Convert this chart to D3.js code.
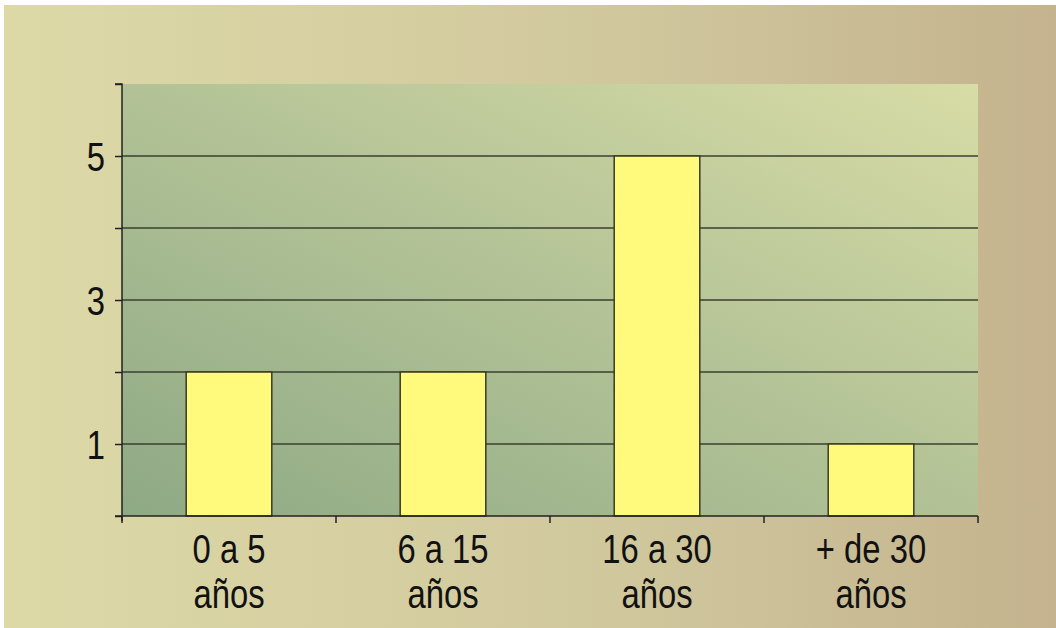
<!DOCTYPE html>
<html>
<head>
<meta charset="utf-8">
<script src="https://cdn.jsdelivr.net/npm/d3@7"></script>
<style>
  body { margin: 0; background: #fff; }
  svg { display: block; }
  text { font-family: "Liberation Sans Narrow", "Arial Narrow", "Liberation Sans", sans-serif; fill: #111; }
</style>
</head>
<body>
<svg width="1056" height="628"></svg>
<script>
// data
var categories = [["0 a 5", "años"], ["6 a 15", "años"], ["16 a 30", "años"], ["+ de 30", "años"]];
var values = [2, 2, 5, 1];
var yTicks = [0, 1, 2, 3, 4, 5, 6];
var yLabels = [1, 3, 5];

var narrow = 0.82; // squeeze to imitate a condensed face

var svg = d3.select("svg");
var defs = svg.append("defs");

var bg = defs.append("linearGradient").attr("id", "bg")
  .attr("x1", 0).attr("y1", 0).attr("x2", 1).attr("y2", 0);
bg.append("stop").attr("offset", "0%").attr("stop-color", "#ddd9a7");
bg.append("stop").attr("offset", "55%").attr("stop-color", "#d1c99e");
bg.append("stop").attr("offset", "100%").attr("stop-color", "#c4b38e");

var plotBg = defs.append("linearGradient").attr("id", "plotbg")
  .attr("x1", 0).attr("y1", 1).attr("x2", 1).attr("y2", 0);
plotBg.append("stop").attr("offset", "0%").attr("stop-color", "#8ea985");
plotBg.append("stop").attr("offset", "50%").attr("stop-color", "#b2c296");
plotBg.append("stop").attr("offset", "100%").attr("stop-color", "#d8dca6");

// page background with thin white edge at top/left
svg.append("rect").attr("x", 4).attr("y", 5).attr("width", 1052).attr("height", 623)
  .attr("fill", "url(#bg)");

var margin = {left: 122, top: 84, right: 978, bottom: 516};

var x = d3.scaleBand()
  .domain(d3.range(categories.length))
  .range([margin.left, margin.right])
  .paddingInner(0.6)
  .paddingOuter(0.3);

var y = d3.scaleLinear().domain([0, 6]).range([margin.bottom, margin.top]);

var g = svg.append("g");

g.append("rect")
  .attr("x", margin.left).attr("y", margin.top)
  .attr("width", margin.right - margin.left)
  .attr("height", margin.bottom - margin.top)
  .attr("fill", "url(#plotbg)");

// gridlines
g.selectAll("line.grid")
  .data(yTicks.filter(function(d) { return d > 0 && d < 6; }))
  .enter().append("line")
  .attr("class", "grid")
  .attr("x1", margin.left).attr("x2", margin.right)
  .attr("y1", function(d) { return y(d); })
  .attr("y2", function(d) { return y(d); })
  .attr("stroke", "#3a3f30").attr("stroke-width", 1.5);

// bars
g.selectAll("rect.bar")
  .data(values)
  .enter().append("rect")
  .attr("class", "bar")
  .attr("x", function(d, i) { return x(i); })
  .attr("y", function(d) { return y(d); })
  .attr("width", x.bandwidth())
  .attr("height", function(d) { return y(0) - y(d); })
  .attr("fill", "#fff97c")
  .attr("stroke", "#3a3a22").attr("stroke-width", 1.5);

// y axis
var yAxis = d3.axisLeft(y).tickValues(yTicks).tickSize(7)
  .tickFormat(function(d) { return yLabels.indexOf(d) >= 0 ? d : ""; });
var ya = svg.append("g").attr("transform", "translate(" + margin.left + ",0)").call(yAxis);
ya.select(".domain").attr("stroke", "#222").attr("stroke-width", 1.5)
  .attr("d", "M-7," + margin.top + "H0V" + (margin.bottom + 5));
ya.selectAll(".tick line").attr("stroke", "#222").attr("stroke-width", 1.5);
ya.selectAll(".tick text").attr("font-size", 40).attr("x", 0).attr("dy", "0.35em")
  .attr("transform", "translate(-17,0) scale(" + narrow + ",1)")
  .attr("fill", "#111");

// x axis: ticks at category boundaries
var step = (margin.right - margin.left) / categories.length;
var bounds = d3.range(categories.length + 1).map(function(i) { return margin.left + i * step; });
svg.append("line")
  .attr("x1", margin.left - 7).attr("x2", margin.right)
  .attr("y1", margin.bottom).attr("y2", margin.bottom)
  .attr("stroke", "#222").attr("stroke-width", 1.5);
svg.selectAll("line.xtick").data(bounds).enter().append("line")
  .attr("class", "xtick")
  .attr("x1", function(d) { return d; }).attr("x2", function(d) { return d; })
  .attr("y1", margin.bottom).attr("y2", margin.bottom + 7)
  .attr("stroke", "#222").attr("stroke-width", 1.5);

var labels = svg.selectAll("text.xlab").data(categories).enter().append("text")
  .attr("class", "xlab")
  .attr("text-anchor", "middle")
  .attr("font-size", 40)
  .attr("transform", function(d, i) {
    return "translate(" + (x(i) + x.bandwidth() / 2) + ",563) scale(" + narrow + ",1)";
  });
labels.selectAll("tspan").data(function(d) { return d; }).enter().append("tspan")
  .attr("x", 0)
  .attr("dy", function(d, i) { return i === 0 ? 0 : 45; })
  .text(function(d) { return d; });
</script>
</body>
</html>
